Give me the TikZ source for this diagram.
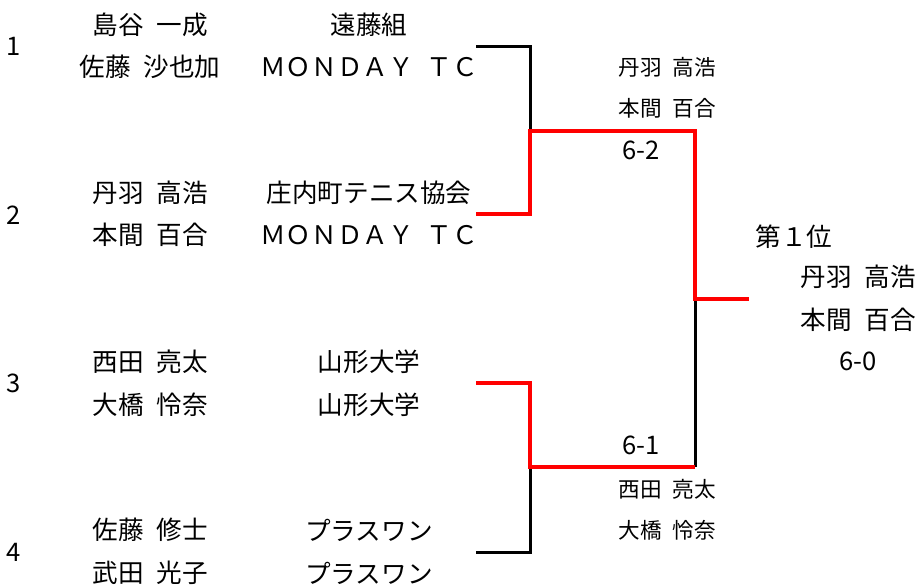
\documentclass[tikz,border=0pt]{standalone}
\usepackage{fontspec}
\setmainfont{Noto Sans CJK JP}
\newcommand{\jsp}{\hspace{.5em}}
\begin{document}
\begin{tikzpicture}[x=0.5pt,y=-0.5pt,
    every node/.style={inner sep=0pt,font=\fontsize{12.8}{15}\selectfont},
    small/.style={anchor=west,font=\fontsize{10.8}{13}\selectfont},
    lost/.style={black,line width=1.5pt},
    won/.style={red,line width=2.25pt}]
  \useasboundingbox (0,0) rectangle (920,584);
  \draw
    (14,46) node (seed1){1}
    (14,215) node (seed2){2}
    (14,383) node (seed3){3}
    (14,552) node (seed4){4}
    (150,25) node (p1a){島谷\jsp 一成}
    (150,67) node (p1b){佐藤\jsp 沙也加}
    (150,193) node (p2a){丹羽\jsp 高浩}
    (150,235) node (p2b){本間\jsp 百合}
    (150,362) node (p3a){西田\jsp 亮太}
    (150,405) node (p3b){大橋\jsp 怜奈}
    (150,530) node (p4a){佐藤\jsp 修士}
    (150,573) node (p4b){武田\jsp 光子}
    (369,25) node (c1a){遠藤組}
    (369,67) node (c1b){ＭＯＮＤＡＹ\jsp ＴＣ}
    (369,193) node (c2a){庄内町テニス協会}
    (369,235) node (c2b){ＭＯＮＤＡＹ\jsp ＴＣ}
    (369,362) node (c3a){山形大学}
    (369,405) node (c3b){山形大学}
    (369,530) node (c4a){プラスワン}
    (369,573) node (c4b){プラスワン}
    (618,67) node[small] (w1a){丹羽\jsp 高浩}
    (618,108) node[small] (w1b){本間\jsp 百合}
    (641,150) node (score1){6-2}
    (641,445) node (score2){6-1}
    (618,489) node[small] (w2a){西田\jsp 亮太}
    (618,530) node[small] (w2b){大橋\jsp 怜奈}
    (755,237) node[anchor=west] (rank){第１位}
    (858,277) node (champa){丹羽\jsp 高浩}
    (858,320) node (champb){本間\jsp 百合}
    (858,361) node (score3){6-0}
    (476,46) coordinate (e1)
    (476,214) coordinate (e2)
    (476,383) coordinate (e3)
    (476,552) coordinate (e4)
    (530,131) coordinate (sf1)
    (530,467) coordinate (sf2)
    (695,299) coordinate (fin)
    (749,299) coordinate (champ);
  \begin{scope}[lost]
    \draw (e1) -| (sf1);
    \draw (e4) -| (sf2);
    \draw (fin) -- (sf2 -| fin);
  \end{scope}
  \begin{scope}[won]
    \draw (e2) -| (sf1) -| (fin) -- (champ);
    \draw (e3) -| (sf2) -- (sf2 -| fin);
  \end{scope}
\end{tikzpicture}
\end{document}
